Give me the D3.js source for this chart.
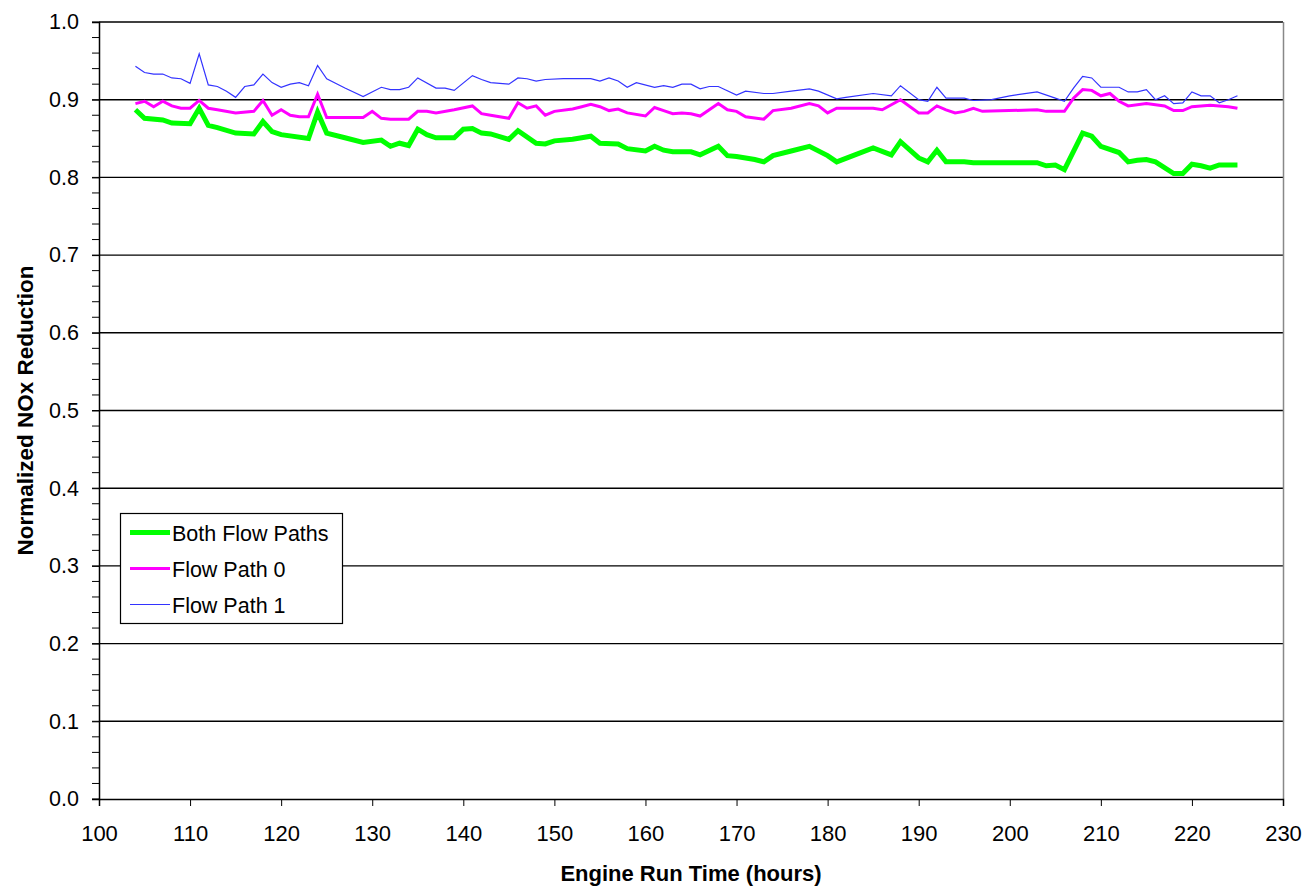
<!DOCTYPE html>
<html><head><meta charset="utf-8">
<script src="https://cdn.jsdelivr.net/npm/d3@7"></script>
<style>body{margin:0;background:#fff}svg{display:block}text{font-family:Arial,"Liberation Sans",sans-serif}</style>
</head><body><svg id="c" width="1305" height="888"></svg>
<script>
const seriesNames = ["Both Flow Paths", "Flow Path 0", "Flow Path 1"];
const xTicks = [100,110,120,130,140,150,160,170,180,190,200,210,220,230];
const yTicks = [0,0.1,0.2,0.3,0.4,0.5,0.6,0.7,0.8,0.9,1.0];

const bothHours = [104,105,107,108,110,111,112,113,115,117,118,119,120,123,124,125,127,129,131,132,133,134,135,136,137,139,140,141,142,143,145,146,148,149,150,152,153,154,155,157,158,160,161,162,163,165,166,168,169,170,172,173,174,176,178,180,181,183,185,187,188,190,191,192,193,195,196,203,204,205,206,208,209,210,212,213,214,215,216,218,219,220,221,222,223,225];
const bothValues = [0.887,0.876,0.874,0.870,0.869,0.889,0.867,0.864,0.857,0.856,0.872,0.859,0.855,0.850,0.884,0.857,0.851,0.845,0.848,0.840,0.844,0.841,0.862,0.855,0.851,0.851,0.862,0.863,0.857,0.856,0.849,0.860,0.844,0.843,0.847,0.849,0.851,0.853,0.844,0.843,0.837,0.834,0.840,0.835,0.833,0.833,0.829,0.840,0.828,0.827,0.823,0.820,0.828,0.834,0.840,0.828,0.820,0.829,0.838,0.829,0.846,0.825,0.820,0.835,0.820,0.820,0.819,0.819,0.815,0.816,0.810,0.857,0.853,0.840,0.832,0.820,0.822,0.823,0.820,0.805,0.805,0.817,0.815,0.812,0.816,0.816];

const path0Hours = [104,105,106,107,108,109,110,111,112,113,115,117,118,119,120,121,122,123,124,125,129,130,131,132,134,135,136,137,139,141,142,143,145,146,147,148,149,150,152,153,154,155,156,157,158,160,161,162,163,164,165,166,168,169,170,171,173,174,176,178,179,180,181,185,186,188,190,191,192,193,194,195,196,197,203,204,206,207,208,209,210,211,212,213,215,217,218,219,220,222,224,225];
const path0Values = [0.895,0.898,0.891,0.898,0.892,0.889,0.889,0.899,0.889,0.887,0.883,0.885,0.899,0.880,0.887,0.880,0.878,0.878,0.907,0.877,0.877,0.885,0.876,0.875,0.875,0.885,0.885,0.883,0.887,0.892,0.882,0.880,0.876,0.896,0.889,0.892,0.880,0.885,0.888,0.891,0.894,0.891,0.886,0.888,0.883,0.879,0.890,0.886,0.882,0.883,0.882,0.879,0.895,0.887,0.885,0.878,0.875,0.886,0.889,0.895,0.892,0.883,0.889,0.889,0.887,0.900,0.883,0.883,0.892,0.887,0.883,0.885,0.889,0.885,0.887,0.885,0.885,0.902,0.913,0.912,0.905,0.908,0.898,0.892,0.895,0.892,0.886,0.886,0.891,0.893,0.891,0.889];

const path1Hours = [104,105,106,107,108,109,110,111,112,113,114,115,116,117,118,119,120,121,122,123,124,125,127,129,131,132,133,134,135,137,138,139,141,142,143,145,146,147,148,149,151,154,155,156,157,158,159,161,162,163,164,165,166,167,168,170,171,173,174,176,178,179,181,182,185,187,188,190,191,192,193,195,196,198,200,203,205,206,207,208,209,210,212,213,214,215,216,217,218,219,220,221,222,223,224,225];
const path1Values = [0.943,0.935,0.933,0.933,0.928,0.927,0.921,0.959,0.919,0.917,0.911,0.903,0.917,0.919,0.933,0.922,0.916,0.920,0.922,0.918,0.944,0.927,0.915,0.904,0.916,0.913,0.913,0.916,0.928,0.915,0.915,0.912,0.931,0.926,0.922,0.920,0.928,0.927,0.924,0.926,0.927,0.927,0.924,0.928,0.924,0.916,0.922,0.916,0.918,0.916,0.920,0.920,0.914,0.917,0.917,0.906,0.911,0.908,0.908,0.911,0.914,0.911,0.901,0.903,0.908,0.905,0.918,0.900,0.898,0.916,0.902,0.902,0.899,0.900,0.905,0.910,0.902,0.898,0.915,0.930,0.928,0.916,0.916,0.910,0.910,0.913,0.900,0.905,0.895,0.896,0.910,0.905,0.905,0.896,0.900,0.905];

const colors = ["#00ff00", "#ff00ff", "#3333ff"];
const widths = [5, 3, 1.2];

const svg = d3.select("#c");
const L = 99, R = 1283, T = 22, B = 799;
const x = d3.scaleLinear().domain([100,230]).range([L,R]);
const y = d3.scaleLinear().domain([0,1]).range([B,T]);

// gridlines
svg.append("g").selectAll("line").data(yTicks.filter(d=>d>0)).join("line")
  .attr("x1",L).attr("x2",R).attr("y1",d=>y(d)).attr("y2",d=>y(d))
  .attr("stroke","#000").attr("stroke-width",1.4);
// right border
svg.append("line").attr("x1",R+0.5).attr("x2",R+0.5).attr("y1",T).attr("y2",B).attr("stroke","#888").attr("stroke-width",1.5);

// y axis
const yAxis = d3.axisLeft(y).tickValues(yTicks).tickFormat(d3.format(".1f")).tickSize(7).tickPadding(13);
const gy = svg.append("g").attr("transform",`translate(${L},0)`).call(yAxis);
gy.select(".domain").attr("stroke","#000").attr("stroke-width",1.5);
gy.selectAll("text").attr("font-size",21.5).attr("fill","#000");
const minor = d3.range(0,1.0001,0.02);
svg.append("g").selectAll("line").data(minor).join("line")
  .attr("x1",L-7).attr("x2",L).attr("y1",d=>y(d)).attr("y2",d=>y(d)).attr("stroke","#000").attr("stroke-width",1);

// x axis
const xAxis = d3.axisBottom(x).tickValues(xTicks).tickFormat(d3.format("d")).tickSize(7).tickPadding(19);
const gx = svg.append("g").attr("transform",`translate(0,${B})`).call(xAxis);
gx.select(".domain").attr("stroke","#000").attr("stroke-width",1.5);
gx.selectAll("text").attr("font-size",22).attr("fill","#000");

// titles
svg.append("text").attr("x",(L+R)/2).attr("y",881).attr("text-anchor","middle")
  .attr("font-size",22).attr("font-weight","bold").text("Engine Run Time (hours)");
svg.append("text").attr("transform",`translate(33,${(T+B)/2}) rotate(-90)`).attr("text-anchor","middle")
  .attr("font-size",22.5).attr("font-weight","bold").text("Normalized NOx Reduction");

// series
const series = [
  {hours: bothHours, values: bothValues},
  {hours: path0Hours, values: path0Values},
  {hours: path1Hours, values: path1Values}
];
const line = d3.line().x(d=>x(d[0])).y(d=>y(d[1]));
series.slice().reverse().forEach((s,ri)=>{
  const i = series.length-1-ri;
  const pts = s.hours.map((h,k)=>[h,s.values[k]]);
  svg.append("path").datum(pts).attr("d",line).attr("fill","none")
    .attr("stroke",colors[i]).attr("stroke-width",widths[i]).attr("stroke-linejoin","miter");
});

// legend
const lg = svg.append("g").attr("transform","translate(120,513)");
lg.append("rect").attr("x",0.5).attr("y",0.5).attr("width",222).attr("height",110)
  .attr("fill","#fff").attr("stroke","#000").attr("stroke-width",1.2);
seriesNames.forEach((n,i)=>{
  const yy = 19.5 + i*36;
  lg.append("line").attr("x1",10).attr("x2",50).attr("y1",yy).attr("y2",yy)
    .attr("stroke",colors[i]).attr("stroke-width",widths[i]);
  lg.append("text").attr("x",52).attr("y",yy+8).attr("font-size",21.5).text(n);
});
</script></body></html>
